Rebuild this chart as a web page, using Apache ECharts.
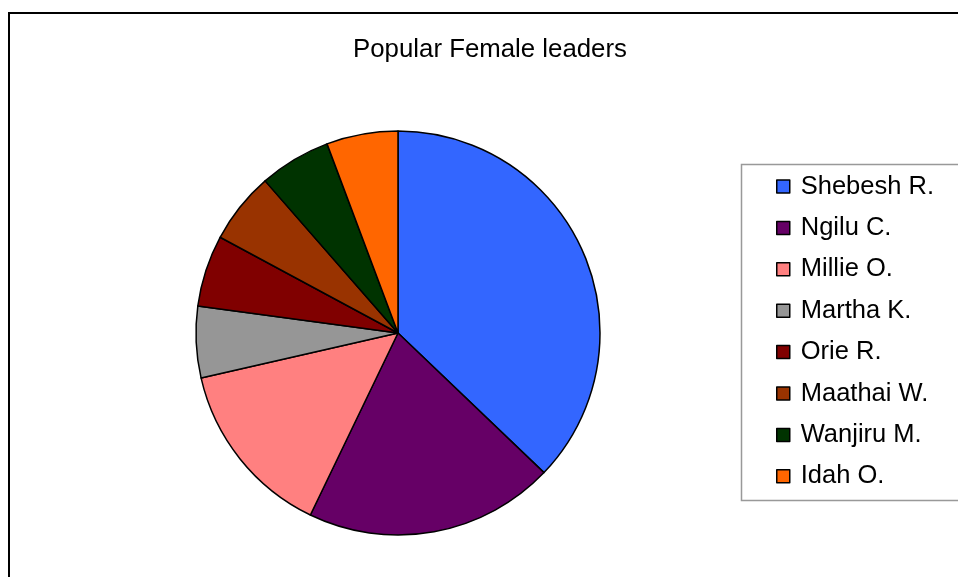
<!DOCTYPE html>
<html>
<head>
<meta charset="utf-8">
<script src="https://cdn.jsdelivr.net/npm/echarts@6/dist/echarts.min.js"></script>
<style>
  html, body { margin: 0; padding: 0; background: #fff; }
  #chart { width: 958px; height: 577px; }
</style>
</head>
<body>
<div id="chart"></div>
<script>
// Votes per leader
const leaders = ['Shebesh R.', 'Ngilu C.', 'Millie O.', 'Martha K.', 'Orie R.', 'Maathai W.', 'Wanjiru M.', 'Idah O.'];
const votes = [13, 7, 5, 2, 2, 2, 2, 2];
const sliceColors = ['#3366FF', '#660066', '#FF8080', '#969696', '#800000', '#993300', '#003300', '#FF6600'];

const chart = echarts.init(document.getElementById('chart'), null, { renderer: 'canvas' });

const pieData = leaders.map((name, i) => ({
  name: name,
  value: votes[i],
  itemStyle: { color: sliceColors[i] }
}));

chart.setOption({
  backgroundColor: '#ffffff',
  animation: false,
  title: {
    text: 'Popular Female leaders',
    left: 490,
    top: 37,
    padding: 0,
    textAlign: 'center',
    textStyle: {
      fontFamily: 'Liberation Sans, Arial, sans-serif',
      fontWeight: 'normal',
      fontSize: 25.8,
      color: '#000'
    }
  },
  legend: {
    orient: 'vertical',
    left: 776,
    top: 173.5,
    padding: 0,
    itemWidth: 13,
    itemHeight: 13,
    itemGap: 15.4,
    icon: 'rect',
    selectedMode: false,
    itemStyle: { borderColor: '#000', borderWidth: 1.5 },
    textStyle: {
      fontFamily: 'Liberation Sans, Arial, sans-serif',
      fontSize: 25.5,
      lineHeight: 25,
      color: '#000',
      padding: [0, 0, 0, 6]
    },
    data: leaders
  },
  graphic: [
    {
      type: 'rect',
      shape: { x: 9, y: 13, width: 1000, height: 600 },
      style: { fill: 'none', stroke: '#000', lineWidth: 2 },
      silent: true
    },
    {
      type: 'rect',
      shape: { x: 741.5, y: 164.5, width: 300, height: 336 },
      style: { fill: 'none', stroke: '#999', lineWidth: 1.5 },
      silent: true
    }
  ],
  series: [{
    type: 'pie',
    center: [398, 333],
    radius: [0, 202],
    startAngle: 90,
    clockwise: true,
    label: { show: false },
    labelLine: { show: false },
    emphasis: { disabled: true },
    itemStyle: { borderColor: '#000', borderWidth: 1.5 },
    data: pieData
  }]
});
</script>
</body>
</html>
